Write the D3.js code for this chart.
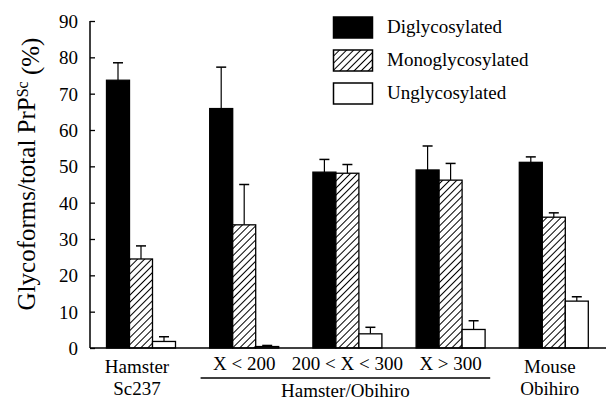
<!DOCTYPE html>
<html><head><meta charset="utf-8">
<script src="https://cdn.jsdelivr.net/npm/d3@7"></script>
<style>body{margin:0;background:#fff}svg{display:block}</style>
</head><body><svg id="c" width="610" height="402"></svg>
<script>
const groups = ["Hamster Sc237", "X < 200", "200 < X < 300", "X > 300", "Mouse Obihiro"];
const series = ["Diglycosylated", "Monoglycosylated", "Unglycosylated"];
const diglyco = [73.7, 65.9, 48.4, 49.0, 51.1];
const diglycoErr = [4.8, 11.4, 3.5, 6.6, 1.5];
const monoglyco = [24.5, 33.9, 48.1, 46.2, 36.0];
const monoglycoErr = [3.6, 11.1, 2.4, 4.6, 1.2];
const unglyco = [1.8, 0.4, 3.9, 5.1, 12.9];
const unglycoErr = [1.3, 0.3, 1.8, 2.4, 1.2];
const yTicks = [0, 10, 20, 30, 40, 50, 60, 70, 80, 90];
const groupLabels = [["Hamster", "Sc237"], null, null, null, ["Mouse", "Obihiro"]];
const subLabels = [null, "X < 200", "200 < X < 300", "X > 300", null];
const bracketLabel = "Hamster/Obihiro";

const values = [diglyco, monoglyco, unglyco];
const errs = [diglycoErr, monoglycoErr, unglycoErr];
const FONT = "Liberation Serif";

const svg = d3.select("#c").attr("font-family", FONT);
const defs = svg.append("defs");
const pat = defs.append("pattern").attr("id", "hatch").attr("patternUnits", "userSpaceOnUse")
  .attr("width", 5).attr("height", 5).attr("patternTransform", "rotate(45)");
pat.append("rect").attr("width", 5).attr("height", 5).attr("fill", "#fff");
pat.append("line").attr("x1", 0.5).attr("y1", 0).attr("x2", 0.5).attr("y2", 5).attr("stroke", "#000").attr("stroke-width", 1);

const fills = ["#000", "url(#hatch)", "#fff"];

const y = d3.scaleLinear().domain([0, 90]).range([348, 21]);
const x0 = d3.scaleBand().domain(groups).range([89.4, 605.4]);
const x1 = d3.scaleBand().domain(series).range([0, 69]);
const off = (x0.bandwidth() - 69) / 2;

series.forEach((s, si) => {
  const g = svg.append("g");
  groups.forEach((grp, gi) => {
    const v = values[si][gi], e = errs[si][gi];
    const bx = x0(grp) + off + x1(s);
    const cx = bx + x1.bandwidth() / 2;
    g.append("line").attr("x1", cx).attr("x2", cx).attr("y1", y(v)).attr("y2", y(v + e))
      .attr("stroke", "#000").attr("stroke-width", 1.2);
    g.append("line").attr("x1", cx - 5).attr("x2", cx + 5).attr("y1", y(v + e)).attr("y2", y(v + e))
      .attr("stroke", "#000").attr("stroke-width", 1.5);
    g.append("rect").attr("x", bx).attr("y", y(v)).attr("width", x1.bandwidth())
      .attr("height", y(0) - y(v)).attr("fill", fills[si]).attr("stroke", "#000").attr("stroke-width", 1.3);
  });
});

const yAxis = d3.axisRight(y).tickValues(yTicks).tickSize(5).tickFormat(d3.format("d"));
const ya = svg.append("g").attr("transform", "translate(90,0)").call(yAxis)
  .attr("font-family", FONT).attr("font-size", 19);
ya.select(".domain").remove();
ya.selectAll(".tick line").attr("stroke", "#000").attr("stroke-width", 1.3);
ya.selectAll(".tick text").attr("x", -12).attr("text-anchor", "end").attr("dy", "0.34em")
  .attr("fill", "#000").attr("font-family", FONT).attr("font-size", 19);
svg.append("line").attr("x1", 90).attr("x2", 90).attr("y1", y(90)).attr("y2", y(0)).attr("stroke", "#000").attr("stroke-width", 1.5);
svg.append("line").attr("x1", 90).attr("x2", 606).attr("y1", y(0)).attr("y2", y(0)).attr("stroke", "#000").attr("stroke-width", 1.5);

const yl = svg.append("text").attr("transform", "translate(35,174) rotate(-90)").attr("text-anchor", "middle")
  .attr("font-family", FONT).attr("font-size", 25);
yl.append("tspan").text("Glycoforms/total PrP");
yl.append("tspan").attr("dy", "-0.45em").attr("font-size", 16).text("Sc");
yl.append("tspan").attr("dy", "0.45em").text(" (%)");

groups.forEach((grp, gi) => {
  const cx = x0(grp) + x0.bandwidth() / 2;
  if (groupLabels[gi]) {
    groupLabels[gi].forEach((t, li) => {
      svg.append("text").attr("x", cx - 4).attr("y", 373 + li * 21.5).attr("text-anchor", "middle")
        .attr("font-family", FONT).attr("font-size", 19).text(t);
    });
  }
  if (subLabels[gi]) {
    svg.append("text").attr("x", cx).attr("y", 370).attr("text-anchor", "middle")
      .attr("font-family", FONT).attr("font-size", 19).text(subLabels[gi]);
  }
});
const bl = x0(groups[1]) + 8, br = x0(groups[3]) + x0.bandwidth() - 12;
svg.append("line").attr("x1", bl).attr("x2", br).attr("y1", 378).attr("y2", 378).attr("stroke", "#000").attr("stroke-width", 1.3);
svg.append("text").attr("x", (bl + br) / 2).attr("y", 397).attr("text-anchor", "middle")
  .attr("font-family", FONT).attr("font-size", 19).text(bracketLabel);

series.forEach((s, si) => {
  const ly = 17 + si * 33;
  svg.append("rect").attr("x", 333.5).attr("y", ly).attr("width", 39).attr("height", 21)
    .attr("fill", fills[si]).attr("stroke", "#000").attr("stroke-width", 1.5);
  svg.append("text").attr("x", 387).attr("y", ly + 16).attr("font-family", FONT).attr("font-size", 19).text(s);
});
</script></body></html>
